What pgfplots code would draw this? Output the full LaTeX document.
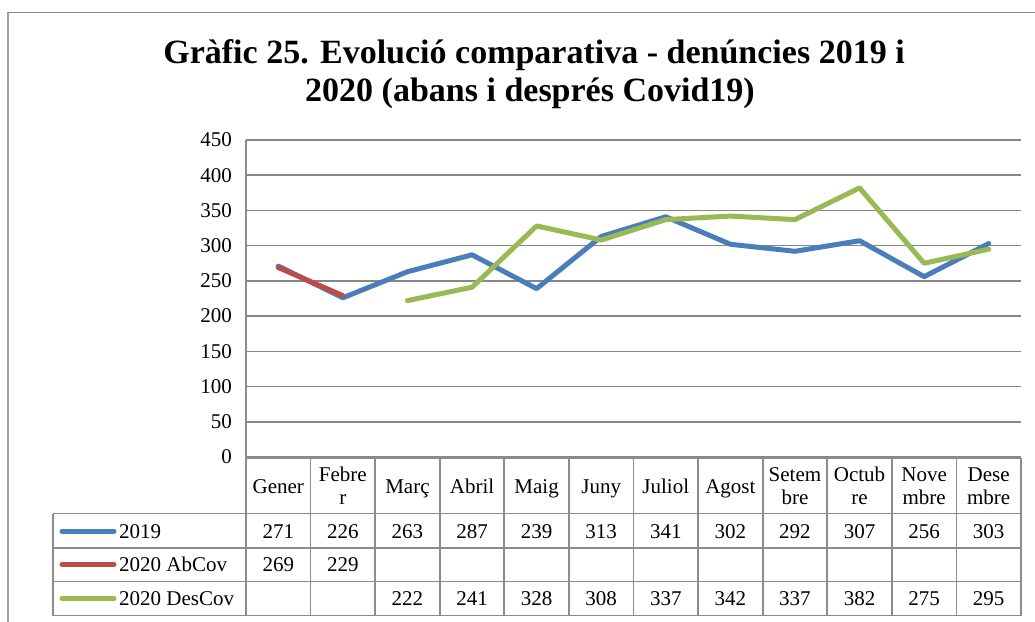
\documentclass[border=0pt]{standalone}
\usepackage{pgfplots}
\pgfplotsset{compat=1.18}
\usepackage{fontspec}
\setmainfont{Liberation Serif}
\definecolor{cblue}{HTML}{4A7EBB}
\definecolor{cred}{HTML}{BE4B48}
\definecolor{cgreen}{HTML}{98B954}
\definecolor{cgrid}{HTML}{878787}
\definecolor{ctab}{HTML}{8C8C8C}
\begin{document}
\begin{tikzpicture}[x=1pt,y=1pt]
\useasboundingbox (0,0) rectangle (1035,621);
\begin{axis}[
  at={(246pt,164pt)}, anchor=south west,
  scale only axis, width=775pt, height=317pt,
  xmin=-0.5, xmax=11.5, ymin=0, ymax=450,
  ytick={0,50,...,450}, xtick=\empty,
  axis line style={draw=none},
  major tick length=0pt,
  ymajorgrids, grid style={color=cgrid, line width=1.6pt},
  /pgf/number format/assume math mode=true,
  yticklabel style={font=\fontsize{21}{24}\selectfont, inner xsep=0pt, xshift=-14pt},
  clip=false,
]
\addplot[cblue, line width=5pt, line cap=round, line join=round] coordinates {
 (0,271) (1,226) (2,263) (3,287) (4,239) (5,313) (6,341) (7,302) (8,292) (9,307) (10,256) (11,303)};
\addplot[cred, line width=5pt, line cap=round, line join=round] coordinates {
 (0,269) (1,229)};
\addplot[cgreen, line width=5pt, line cap=round, line join=round] coordinates {
 (2,222) (3,241) (4,328) (5,308) (6,337) (7,342) (8,337) (9,382) (10,275) (11,295)};
\end{axis}
\begin{scope}[shift={(0,621)}, y=-1pt]
% outer frame
\draw[color=cgrid!80, line width=2.2pt] (8,622) -- (8,12.5);
\draw[color=cgrid, line width=1.5pt] (7,12.5) -- (1036,12.5);
% title
\node[anchor=base, inner sep=0pt, font=\bfseries\fontsize{34}{39}\selectfont] at (534,63.5) {Gràfic 25. Evolució comparativa - denúncies 2019 i};
\node[anchor=base, inner sep=0pt, font=\bfseries\fontsize{34}{39}\selectfont] at (530,102) {2020 (abans i després Covid19)};
% data table
\begin{scope}[color=ctab, line width=1.8pt]
\draw (246,140) -- (246,615.5);
\draw (245,458) -- (1021,458);
\foreach \yy in {513.5,548,581.5,615.5} \draw (53,\yy) -- (1021,\yy);
\draw (53,513.5) -- (53,615.5);
\foreach \k in {1,...,12} \draw ({246+64.583*\k},458) -- ({246+64.583*\k},615.5);
\end{scope}
\begin{scope}[font=\fontsize{21}{24}\selectfont, every node/.style={anchor=base, inner sep=0pt}]
\foreach \i/\t in {0/Gener,2/Març,3/Abril,4/Maig,5/Juny,6/Juliol,7/Agost}
  \node at ({246+64.583*(\i+0.5)},493) {\t};
\foreach \i/\t/\u in {1/Febre/r,8/Setem/bre,9/Octub/re,10/Nove/mbre,11/Dese/mbre}{
  \node at ({246+64.583*(\i+0.5)},481.5) {\t};
  \node at ({246+64.583*(\i+0.5)},504) {\u};
}
\foreach \v [count=\i from 0] in {271,226,263,287,239,313,341,302,292,307,256,303}
  \node at ({246+64.583*(\i+0.5)},538) {\v};
\foreach \v [count=\i from 0] in {269,229}
  \node at ({246+64.583*(\i+0.5)},571.5) {\v};
\foreach \v [count=\i from 2] in {222,241,328,308,337,342,337,382,275,295}
  \node at ({246+64.583*(\i+0.5)},605) {\v};
\draw[cblue, line width=5pt, line cap=round] (62,531) -- (114,531);
\draw[cred, line width=5pt, line cap=round] (62,564.5) -- (114,564.5);
\draw[cgreen, line width=5pt, line cap=round] (62,598.5) -- (114,598.5);
\node[anchor=base west] at (119,538) {2019};
\node[anchor=base west] at (119,571.5) {2020 AbCov};
\node[anchor=base west] at (119,605) {2020 DesCov};
\end{scope}
\end{scope}
\end{tikzpicture}
\end{document}
